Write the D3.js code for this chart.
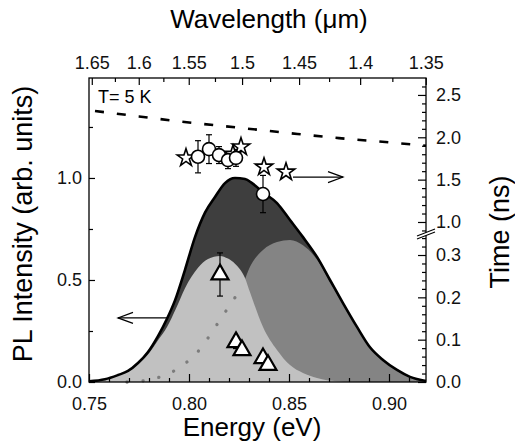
<!DOCTYPE html>
<html>
<head>
<meta charset="utf-8">
<script src="https://cdn.jsdelivr.net/npm/d3@7"></script>
<style>
body { margin: 0; background: #fff; }
svg { font-family: "Liberation Sans", Arial, sans-serif; }
</style>
</head>
<body>
<svg id="chart"></svg>
<script>
// PL spectrum (total) and the two fitted components
var totalE  = [0.750, 0.758, 0.7645, 0.7695, 0.7745, 0.7795, 0.7845, 0.789, 0.793, 0.798, 0.803, 0.808, 0.813, 0.818, 0.823, 0.828, 0.8315, 0.837, 0.844, 0.8505, 0.857, 0.864, 0.8705, 0.877, 0.884, 0.8905, 0.897, 0.904, 0.9105, 0.9185];
var totalPL = [0.003, 0.013, 0.034, 0.054, 0.093, 0.147, 0.225, 0.31, 0.40, 0.55, 0.71, 0.83, 0.907, 0.975, 1.0, 0.995, 0.975, 0.93, 0.877, 0.794, 0.71, 0.613, 0.50, 0.387, 0.27, 0.17, 0.108, 0.059, 0.025, 0.005];

var lowE  = [0.750, 0.758, 0.7645, 0.7695, 0.7745, 0.7795, 0.7845, 0.789, 0.7935, 0.798, 0.8045, 0.8095, 0.8155, 0.8195, 0.823, 0.828, 0.8305, 0.837, 0.844, 0.8505, 0.857, 0.864, 0.874, 0.885];
var lowPL = [0.002, 0.012, 0.032, 0.052, 0.088, 0.135, 0.205, 0.27, 0.36, 0.46, 0.56, 0.603, 0.618, 0.605, 0.58, 0.51, 0.44, 0.27, 0.157, 0.083, 0.044, 0.02, 0.004, 0];

var highE  = [0.769, 0.7765, 0.784, 0.7915, 0.799, 0.806, 0.8115, 0.8165, 0.8215, 0.8265, 0.8305, 0.837, 0.844, 0.8505, 0.857, 0.864, 0.8705, 0.877, 0.884, 0.8905, 0.897, 0.904, 0.9105, 0.918];
var highPL = [0, 0.005, 0.02, 0.049, 0.098, 0.167, 0.245, 0.319, 0.392, 0.466, 0.565, 0.647, 0.686, 0.696, 0.67, 0.60, 0.49, 0.38, 0.265, 0.167, 0.105, 0.057, 0.024, 0.005];

// decay times (right axis)
var dashE    = [0.753, 0.775, 0.80, 0.825, 0.85, 0.875, 0.90, 0.9185];
var dashTime = [2.31, 2.246, 2.175, 2.113, 2.05, 1.99, 1.94, 1.90];

var starE    = [0.7985, 0.822, 0.826, 0.8375, 0.8485];
var starTime = [1.757, 1.80, 1.887, 1.65, 1.59];

var circleE    = [0.8045, 0.81, 0.815, 0.8195, 0.8235, 0.837];
var circleTime = [1.77, 1.86, 1.79, 1.73, 1.757, 1.33];
var circleErr  = [0.19, 0.17, 0.1, 0.1, 0.1, 0.22];

var triE    = [0.8155, 0.8235, 0.8265, 0.837, 0.8395];
var triTime = [0.254, 0.094, 0.075, 0.056, 0.04];
var triErr  = [0.051, 0.015, 0.012, 0.012, 0.01];

// arrows pointing to the axis each data set belongs to
var arrowTimeE = [0.852, 0.877], arrowTime = 1.53;
var arrowPLE = [0.789, 0.7645], arrowPL = 0.314;

// ticks
var energyMajor = [0.75, 0.80, 0.85, 0.90];
var energyMinor = [0.76, 0.77, 0.78, 0.79, 0.81, 0.82, 0.83, 0.84, 0.86, 0.87, 0.88, 0.89, 0.91];
var lambdaMajor = [1.65, 1.6, 1.55, 1.5, 1.45, 1.4, 1.35];
var lambdaMinor = [1.625, 1.575, 1.525, 1.475, 1.425, 1.375];
var plMajor = [0, 0.5, 1.0];
var plMinor = [0.25, 0.75, 1.25];
var timeMajor = [0, 0.1, 0.2, 0.3, 1.0, 1.5, 2.0, 2.5];
var timeMinor = [0.02, 0.04, 0.06, 0.08, 0.12, 0.14, 0.16, 0.18, 0.22, 0.24, 0.26, 0.28, 0.32, 0.34,
                 0.9, 1.1, 1.2, 1.3, 1.4, 1.6, 1.7, 1.8, 1.9, 2.1, 2.2, 2.3, 2.4, 2.6];

var hc = 1.2398; // eV*um

var width = 515, height = 448;
var plotL = 89, plotR = 426, plotT = 78, plotB = 382;

var svg = d3.select("#chart").attr("width", width).attr("height", height);

var x = d3.scaleLinear().domain([0.75, 0.9185]).range([plotL, plotR]);
var y = d3.scaleLinear().domain([0, 1.49]).range([plotB, plotT]);
// broken time axis: 0..0.352 below the break, 0.87..2.70 above
var t = d3.scaleLinear().domain([0, 0.352, 0.87, 2.70]).range([plotB, 233, 233, plotT]);
var allLambda = lambdaMajor.concat(lambdaMinor).sort(d3.descending);
var wl = d3.scaleLinear().domain(allLambda).range(allLambda.map(function(l){ return x(hc / l); }));

function zip(a, b){ return a.map(function(d, i){ return [d, b[i]]; }); }

var area = d3.area()
    .x(function(d){ return x(d[0]); })
    .y0(plotB)
    .y1(function(d){ return y(d[1]); })
    .curve(d3.curveMonotoneX);
var line = d3.line()
    .x(function(d){ return x(d[0]); })
    .y(function(d){ return y(d[1]); })
    .curve(d3.curveMonotoneX);

svg.append("path").datum(zip(totalE, totalPL)).attr("d", area).attr("fill", "#3e3e3e");
svg.append("path").datum(zip(highE, highPL)).attr("d", area).attr("fill", "#848484");
svg.append("path").datum(zip(lowE, lowPL)).attr("d", area).attr("fill", "#c1c1c1");

// hidden flank of the high energy band, dotted
svg.append("path")
    .datum(zip(highE, highPL).filter(function(d){ return d[0] < 0.828; }))
    .attr("d", line)
    .attr("fill", "none")
    .attr("stroke", "#7c7c7c")
    .attr("stroke-width", 3.3)
    .attr("stroke-linecap", "round")
    .attr("stroke-dasharray", "0.1 16");

svg.append("path").datum(zip(totalE, totalPL)).attr("d", line)
    .attr("fill", "none").attr("stroke", "#000").attr("stroke-width", 2.6);

// radiative lifetime (dashed)
svg.append("path")
    .datum(zip(dashE, dashTime))
    .attr("d", d3.line().x(function(d){ return x(d[0]); }).y(function(d){ return t(d[1]); }).curve(d3.curveMonotoneX))
    .attr("fill", "none")
    .attr("stroke", "#000")
    .attr("stroke-width", 2.6)
    .attr("stroke-dasharray", "9 13");

// error bars
function errorBars(es, ts, errs){
    var g = svg.append("g").attr("stroke", "#000").attr("stroke-width", 1.2);
    es.forEach(function(e, i){
        var cx = x(e), y1 = t(ts[i] + errs[i]), y2 = t(ts[i] - errs[i]);
        g.append("line").attr("x1", cx).attr("x2", cx).attr("y1", y1).attr("y2", y2);
        g.append("line").attr("x1", cx - 3).attr("x2", cx + 3).attr("y1", y1).attr("y2", y1);
        g.append("line").attr("x1", cx - 3).attr("x2", cx + 3).attr("y1", y2).attr("y2", y2);
    });
}
errorBars(triE, triTime, triErr);
errorBars(circleE, circleTime, circleErr);

svg.append("g").selectAll("path")
    .data(zip(triE, triTime))
    .enter().append("path")
    .attr("transform", function(d){ return "translate(" + x(d[0]) + "," + t(d[1]) + ")"; })
    .attr("d", d3.symbol().type(d3.symbolTriangle).size(125))
    .attr("fill", "#fff").attr("stroke", "#000").attr("stroke-width", 2.2);

svg.append("g").selectAll("path")
    .data(zip(starE, starTime))
    .enter().append("path")
    .attr("transform", function(d){ return "translate(" + x(d[0]) + "," + t(d[1]) + ")"; })
    .attr("d", d3.symbol().type(d3.symbolStar).size(95))
    .attr("fill", "#fff").attr("stroke", "#000").attr("stroke-width", 1.6);

svg.append("g").selectAll("circle")
    .data(zip(circleE, circleTime))
    .enter().append("circle")
    .attr("cx", function(d){ return x(d[0]); })
    .attr("cy", function(d){ return t(d[1]); })
    .attr("r", 6.5)
    .attr("fill", "#fff").attr("stroke", "#000").attr("stroke-width", 1.6);

// arrows
function arrow(xa, xb, yy){
    var dir = xb > xa ? 1 : -1;
    var g = svg.append("g").attr("stroke", "#000").attr("stroke-width", 1.2).attr("fill", "none");
    g.append("line").attr("x1", xa).attr("x2", xb).attr("y1", yy).attr("y2", yy);
    g.append("path").attr("d", "M" + (xb - dir*15) + "," + (yy - 5.5) + "L" + xb + "," + yy + "L" + (xb - dir*15) + "," + (yy + 5.5));
}
arrow(x(arrowTimeE[0]), x(arrowTimeE[1]), t(arrowTime));
arrow(x(arrowPLE[0]), x(arrowPLE[1]), y(arrowPL));

// frame
svg.append("rect")
    .attr("x", plotL).attr("y", plotT)
    .attr("width", plotR - plotL).attr("height", plotB - plotT)
    .attr("fill", "none").attr("stroke", "#000").attr("stroke-width", 1.3);

function styleAxis(g){
    g.select(".domain").remove();
    g.attr("font-size", 18).attr("font-family", "Liberation Sans, Arial, sans-serif");
    g.selectAll("line").attr("stroke-width", 1.2);
    g.selectAll("text").attr("fill", "#111");
}

svg.append("g").attr("transform", "translate(0," + plotB + ")")
    .call(d3.axisBottom(x).tickValues(energyMajor).tickSizeInner(-8).tickSizeOuter(0).tickPadding(15).tickFormat(d3.format(".2f")))
    .call(styleAxis);
svg.append("g").attr("transform", "translate(0," + plotB + ")")
    .call(d3.axisBottom(x).tickValues(energyMinor).tickSizeInner(-4).tickSizeOuter(0).tickFormat(""))
    .call(styleAxis);

svg.append("g").attr("transform", "translate(0," + plotT + ")")
    .call(d3.axisTop(wl).tickValues(lambdaMajor).tickSizeInner(-7).tickSizeOuter(0).tickPadding(9).tickFormat(function(d){ return d; }))
    .call(styleAxis);
svg.append("g").attr("transform", "translate(0," + plotT + ")")
    .call(d3.axisTop(wl).tickValues(lambdaMinor).tickSizeInner(-4).tickSizeOuter(0).tickFormat(""))
    .call(styleAxis);

svg.append("g").attr("transform", "translate(" + plotL + ",0)")
    .call(d3.axisLeft(y).tickValues(plMajor).tickSizeInner(-6).tickSizeOuter(0).tickPadding(7).tickFormat(d3.format(".1f")))
    .call(styleAxis);
svg.append("g").attr("transform", "translate(" + plotL + ",0)")
    .call(d3.axisLeft(y).tickValues(plMinor).tickSizeInner(-4).tickSizeOuter(0).tickFormat(""))
    .call(styleAxis);

svg.append("g").attr("transform", "translate(" + plotR + ",0)")
    .call(d3.axisRight(t).tickValues(timeMajor).tickSizeInner(-8).tickSizeOuter(0).tickPadding(10).tickFormat(d3.format(".1f")))
    .call(styleAxis);
svg.append("g").attr("transform", "translate(" + plotR + ",0)")
    .call(d3.axisRight(t).tickValues(timeMinor).tickSizeInner(-4).tickSizeOuter(0).tickFormat(""))
    .call(styleAxis);

// axis break on the time axis
var yb = t(0.352);
svg.append("path")
    .attr("d", "M" + (plotR - 9) + "," + (yb + 3) + "L" + (plotR + 9) + "," + (yb - 4) + "L" + (plotR + 9) + "," + (yb - 1) + "L" + (plotR - 9) + "," + (yb + 6) + "Z")
    .attr("fill", "#fff");
svg.append("g").attr("stroke", "#000").attr("stroke-width", 1.1)
    .selectAll("line").data([0, 3]).enter().append("line")
    .attr("x1", plotR - 9).attr("x2", plotR + 9)
    .attr("y1", function(d){ return yb + 3 + d; })
    .attr("y2", function(d){ return yb - 4 + d; });

// titles
svg.append("text").attr("x", 269).attr("y", 28).attr("text-anchor", "middle")
    .attr("font-size", 26).text("Wavelength (\u03bcm)");
svg.append("text").attr("x", 252).attr("y", 436).attr("text-anchor", "middle")
    .attr("font-size", 26).text("Energy (eV)");
svg.append("text").attr("transform", "translate(31.5,224) rotate(-90)").attr("text-anchor", "middle")
    .attr("font-size", 27).text("PL Intensity (arb. units)");
svg.append("text").attr("transform", "translate(509,232) rotate(-90)").attr("text-anchor", "middle")
    .attr("font-size", 27).text("Time (ns)");
svg.append("text").attr("x", 98).attr("y", 103).attr("font-size", 18).text("T= 5 K");
</script>
</body>
</html>
